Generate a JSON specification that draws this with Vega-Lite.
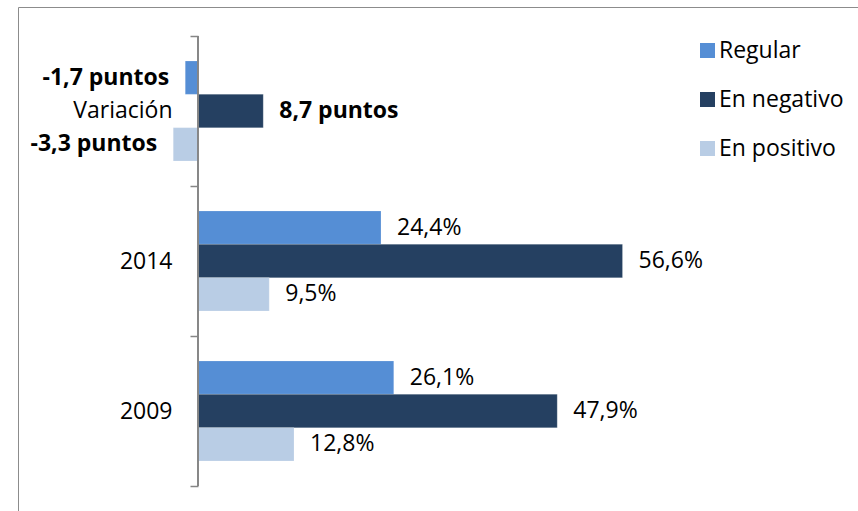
{
  "$schema": "https://vega.github.io/schema/vega-lite/v6.json",
  "autosize": {"type": "none"},
  "padding": {"left": 18, "top": 7, "right": -5, "bottom": -4},
  "width": 845,
  "height": 508,
  "background": "white",
  "config": {
    "view": {"stroke": "#8c8c8c", "strokeWidth": 1},
    "font": "Open Sans"
  },
  "data": {
    "values": [
      {"cat": "Variación", "serie": "Regular", "valor": -1.7, "etiqueta": "-1,7 puntos"},
      {"cat": "Variación", "serie": "En negativo", "valor": 8.7, "etiqueta": "8,7 puntos"},
      {"cat": "Variación", "serie": "En positivo", "valor": -3.3, "etiqueta": "-3,3 puntos"},
      {"cat": "2014", "serie": "Regular", "valor": 24.4, "etiqueta": "24,4%"},
      {"cat": "2014", "serie": "En negativo", "valor": 56.6, "etiqueta": "56,6%"},
      {"cat": "2014", "serie": "En positivo", "valor": 9.5, "etiqueta": "9,5%"},
      {"cat": "2009", "serie": "Regular", "valor": 26.1, "etiqueta": "26,1%"},
      {"cat": "2009", "serie": "En negativo", "valor": 47.9, "etiqueta": "47,9%"},
      {"cat": "2009", "serie": "En positivo", "valor": 12.8, "etiqueta": "12,8%"}
    ]
  },
  "encoding": {
    "y": {
      "field": "cat",
      "type": "nominal",
      "sort": ["Variación", "2014", "2009"],
      "scale": {"paddingInner": 0, "paddingOuter": 0.1933},
      "axis": {
        "title": null,
        "offset": -180,
        "domain": false,
        "tickBand": "extent",
        "tickSize": 8,
        "tickColor": "#868686",
        "tickWidth": 1.5,
        "labelFontSize": 23,
        "labelColor": "#000000",
        "labelPadding": 18,
        "labelFont": "Open Sans"
      }
    },
    "x": {
      "field": "valor",
      "type": "quantitative",
      "scale": {"domain": [-24, 88.67], "nice": false, "zero": false},
      "axis": null
    }
  },
  "layer": [
    {
      "mark": {"type": "bar", "stroke": "#ffffff", "strokeOpacity": 0.35, "strokeWidth": 0.5},
      "encoding": {
        "yOffset": {
          "field": "serie",
          "type": "nominal",
          "sort": ["Regular", "En negativo", "En positivo"],
          "scale": {"paddingInner": 0, "paddingOuter": 0.75}
        },
        "color": {
          "field": "serie",
          "type": "nominal",
          "sort": ["Regular", "En negativo", "En positivo"],
          "scale": {
            "domain": ["Regular", "En negativo", "En positivo"],
            "range": ["#558ED5", "#254061", "#B9CDE5"]
          },
          "legend": {
            "title": null,
            "orient": "none",
            "legendX": 678,
            "legendY": 32,
            "symbolType": "square",
            "symbolSize": 225,
            "symbolStrokeWidth": 0,
            "symbolOpacity": 1,
            "labelFontSize": 23,
            "labelFont": "Open Sans",
            "labelColor": "#000000",
            "labelOffset": 0,
            "rowPadding": 25
          }
        }
      }
    },
    {
      "transform": [{"filter": "datum.cat !== 'Variación'"}],
      "mark": {"type": "text", "align": "left", "baseline": "middle", "dx": 16, "fontSize": 23, "color": "#000000"},
      "encoding": {
        "yOffset": {"field": "serie", "type": "nominal", "sort": ["Regular", "En negativo", "En positivo"]},
        "text": {"field": "etiqueta"}
      }
    },
    {
      "transform": [{"filter": "datum.cat === 'Variación' && datum.valor >= 0"}],
      "mark": {"type": "text", "align": "left", "baseline": "middle", "dx": 16, "fontSize": 23, "fontWeight": "bold", "color": "#000000"},
      "encoding": {
        "yOffset": {"field": "serie", "type": "nominal", "sort": ["Regular", "En negativo", "En positivo"]},
        "text": {"field": "etiqueta"}
      }
    },
    {
      "transform": [{"filter": "datum.valor < 0"}],
      "mark": {"type": "text", "align": "right", "baseline": "middle", "dx": -16, "fontSize": 23, "fontWeight": "bold", "color": "#000000"},
      "encoding": {
        "yOffset": {"field": "serie", "type": "nominal", "sort": ["Regular", "En negativo", "En positivo"]},
        "text": {"field": "etiqueta"}
      }
    },
    {
      "mark": {"type": "rule", "color": "#868686", "strokeWidth": 1.5},
      "encoding": {
        "x": {"datum": 0},
        "y": {"field": "cat", "type": "nominal", "bandPosition": 0, "sort": ["Variación", "2014", "2009"]},
        "y2": {"field": "cat", "bandPosition": 1}
      }
    }
  ]
}
